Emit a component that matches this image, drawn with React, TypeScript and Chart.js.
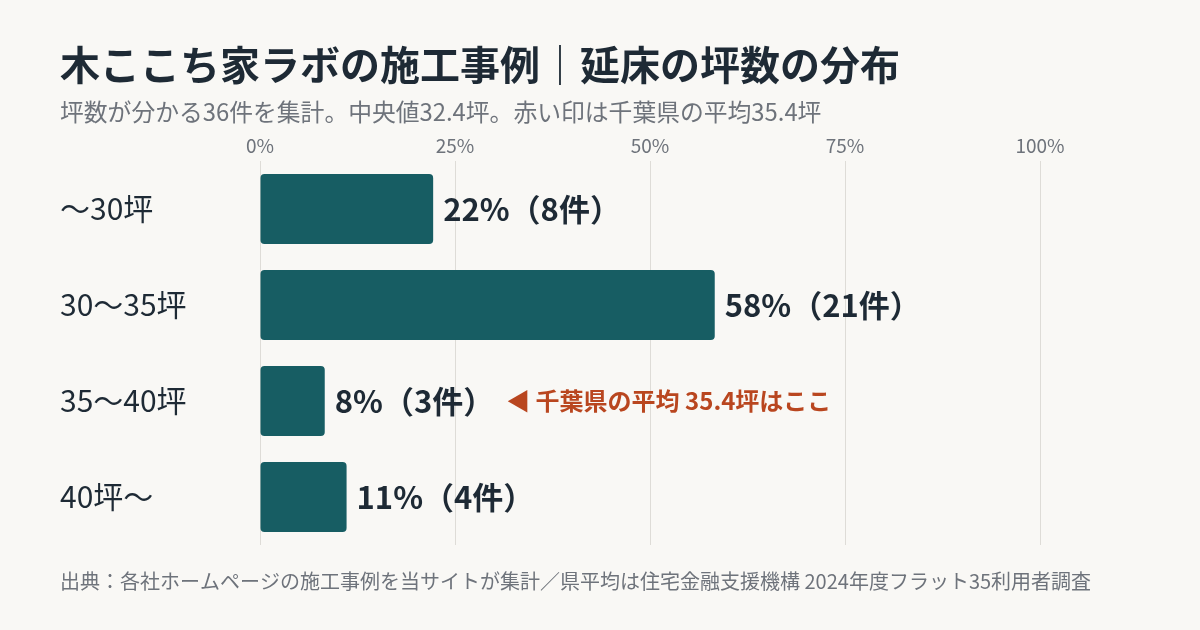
import { useEffect, useRef } from "react";
import { Chart, registerables } from "chart.js";

Chart.register(...registerables);

const categories = ["～30坪", "30～35坪", "35～40坪", "40坪～"];
const percentValues = [22.2, 58.3, 8.3, 11.1];
const caseCounts = [8, 21, 3, 4];
const percentLabels = ["22%", "58%", "8%", "11%"];
const xTickValues = [0, 25, 50, 75, 100];

const titleText = "木ここち家ラボの施工事例｜延床の坪数の分布";
const subtitleText = "坪数が分かる36件を集計。中央値32.4坪。赤い印は千葉県の平均35.4坪";
const sourceText =
  "出典：各社ホームページの施工事例を当サイトが集計／県平均は住宅金融支援機構 2024年度フラット35利用者調査";
const markerCategoryIndex = 2;
const markerText = "◀ 千葉県の平均 35.4坪はここ";

const FONT = "'Noto Sans CJK JP', 'Noto Sans', sans-serif";
const BG = "#f9f8f5";
const BAR = "#175d63";
const DARK = "#1e2a35";
const GRAY = "#6e737b";
const RED = "#b9461f";
const GRID = "#dedcd7";

const textPlugin = {
  id: "textPlugin",
  beforeDraw(chart: any) {
    const ctx = chart.ctx;
    ctx.save();
    ctx.fillStyle = BG;
    ctx.fillRect(0, 0, chart.width, chart.height);
    ctx.restore();
  },
  afterDatasetsDraw(chart: any) {
    const ctx = chart.ctx;
    ctx.save();
    ctx.textBaseline = "middle";
    ctx.textAlign = "left";
    const meta = chart.getDatasetMeta(0);
    meta.data.forEach((bar: any, i: number) => {
      const label = `${percentLabels[i]}（${caseCounts[i]}件）`;
      ctx.font = `bold 31px ${FONT}`;
      ctx.fillStyle = DARK;
      const lx = bar.x + 10;
      ctx.fillText(label, lx, bar.y);
      if (i === markerCategoryIndex) {
        const w = ctx.measureText(label).width;
        ctx.font = `bold 24px ${FONT}`;
        ctx.fillStyle = RED;
        ctx.fillText(markerText, lx + w + 12, bar.y);
      }
    });

    ctx.fillStyle = DARK;
    ctx.font = `bold 40px ${FONT}`;
    ctx.fillText(titleText, 60, 65);

    ctx.fillStyle = GRAY;
    ctx.font = `23.8px ${FONT}`;
    ctx.fillText(subtitleText, 60, 112);

    ctx.font = `20px ${FONT}`;
    ctx.fillText(sourceText, 60, 581);
    ctx.restore();
  },
};

export default function App() {
  const canvasRef = useRef<HTMLCanvasElement | null>(null);

  useEffect(() => {
    const canvas = canvasRef.current;
    if (!canvas) return;
    const chart = new Chart(canvas, {
      type: "bar",
      data: {
        labels: categories,
        datasets: [
          {
            data: percentValues,
            backgroundColor: BAR,
            borderRadius: 4,
            borderSkipped: false,
            barPercentage: 0.73,
            categoryPercentage: 1,
          },
        ],
      },
      options: {
        indexAxis: "y",
        responsive: false,
        animation: false,
        layout: { padding: { top: 131, left: 60, right: 160, bottom: 85 } },
        plugins: {
          legend: { display: false },
          tooltip: { enabled: false },
          title: { display: false },
        },
        scales: {
          x: {
            position: "top",
            min: 0,
            max: 100,
            afterBuildTicks: (scale: any) => {
              scale.ticks = xTickValues.map((v) => ({ value: v }));
            },
            afterFit: (scale: any) => {
              scale.height = 30;
            },
            ticks: {
              padding: 4,
              color: GRAY,
              font: { family: FONT, size: 19 },
              callback: (v: any) => `${v}%`,
            },
            grid: { color: GRID, lineWidth: 1, drawTicks: false },
            border: { display: false },
          },
          y: {
            afterFit: (scale: any) => {
              scale.width = 200;
            },
            ticks: {
              crossAlign: "far",
              padding: 0,
              color: DARK,
              font: { family: FONT, size: 30 },
            },
            grid: { display: false },
            border: { display: false },
          },
        },
      },
      plugins: [textPlugin],
    } as any);
    return () => chart.destroy();
  }, []);

  return (
    <div style={{ position: "fixed", left: 0, top: 0, width: 1200, height: 630, background: BG }}>
      <canvas ref={canvasRef} width={1200} height={630} />
    </div>
  );
}
